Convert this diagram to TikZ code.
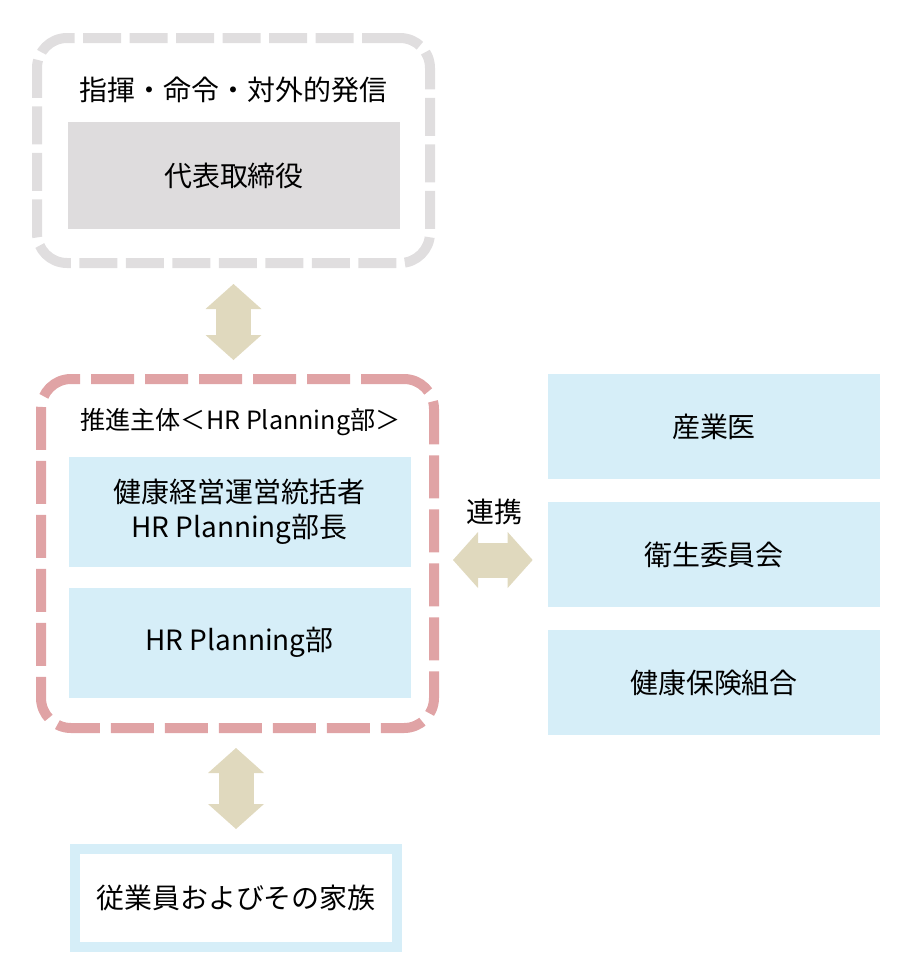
\documentclass[tikz,border=0pt]{standalone}
\usepackage{fontspec}
\setmainfont{Noto Sans CJK JP}
\usetikzlibrary{arrows.meta,positioning}

\definecolor{frameGray}{RGB}{224,222,223}
\definecolor{boxGray}{RGB}{222,220,221}
\definecolor{framePink}{RGB}{224,163,165}
\definecolor{boxBlue}{RGB}{214,238,248}
\definecolor{linkTan}{RGB}{224,217,190}

\begin{document}
\begin{tikzpicture}[
    font=\fontsize{15.9pt}{19.9pt}\selectfont,
    grayframe/.style={
        draw=frameGray,
        line width=0.2cm,
        rounded corners=0.6cm,
        dash pattern=on 0.76cm off 0.17cm,
        minimum width=7.86cm,
        minimum height=4.50cm
    },
    pinkframe/.style={
        draw=framePink,
        line width=0.2cm,
        rounded corners=0.6cm,
        dash pattern=on 0.86cm off 0.22cm,
        minimum width=7.86cm,
        minimum height=6.98cm
    },
    bluebox/.style={
        fill=boxBlue,
        align=center,
        inner sep=0pt,
        minimum width=6.64cm,
        minimum height=2.10cm
    },
    title/.style={align=center, inner sep=0pt},
    tiptan/.tip={Triangle[length=0.5cm, width=1.12cm, line width=0pt]},
    linkarrow/.style={color=linkTan, line width=0.7cm, tiptan-tiptan}
]

\useasboundingbox (0,0) rectangle (18.32,-19.48);

% ============================================================
% Top: command and external communication
% ============================================================

\node[grayframe] (gov) at (4.67,-3.01) {};

\node[title] (govtitle) at (4.67,-1.80)
    {指揮・命令・対外的発信};

\node[
    bluebox,
    fill=boxGray,
    minimum height=2.14cm
] (ceo) at (4.68,-3.51)
    {代表取締役};

% ============================================================
% Middle: promoting body
% ============================================================

\node[pinkframe] (promo) at (4.75,-11.07) {};

% Slightly smaller title text
\node[
    title,
    font=\fontsize{14.3pt}{18pt}\selectfont
] (promotitle) at (4.81,-8.45)
    {推進主体＜HR Planning部＞};

\node[
    bluebox,
    minimum width=6.84cm,
    minimum height=2.20cm
] (lead) at (4.79,-10.24)
    {健康経営運営統括者\\HR Planning部長};

\node[
    bluebox,
    minimum width=6.84cm,
    minimum height=2.20cm
] (hrdept) at (4.79,-12.85)
    {HR Planning部};

% ============================================================
% Right: partners
% ============================================================

\node[bluebox] (doctor) at (14.28,-8.53)
    {産業医};

\node[bluebox] (eisei) at (14.28,-11.09)
    {衛生委員会};

\node[bluebox] (kenpo) at (14.28,-13.65)
    {健康保険組合};

% ============================================================
% Bottom: employees
% ============================================================

\node[
    draw=boxBlue,
    line width=0.2cm,
    align=center,
    minimum width=6.44cm,
    minimum height=1.96cm
] (family) at (4.72,-17.96)
    {従業員およびその家族};

% ============================================================
% Arrows
% ============================================================

\draw[linkarrow, shorten <=0.32cm, shorten >=0.28cm]
    (gov.south) -- (gov.south |- promo.north);

\draw[linkarrow, shorten <=0.3cm, shorten >=0.3cm]
    (family.north |- promo.south) -- (family.north);

\coordinate (linkstart) at ([yshift=-0.13cm]promo.east);

\draw[linkarrow, shorten <=0.28cm, shorten >=0.3cm]
    (linkstart) -- (linkstart -| eisei.west);

\node[title] (renkei) at (9.88,-10.24) {連携};

\end{tikzpicture}
\end{document}
